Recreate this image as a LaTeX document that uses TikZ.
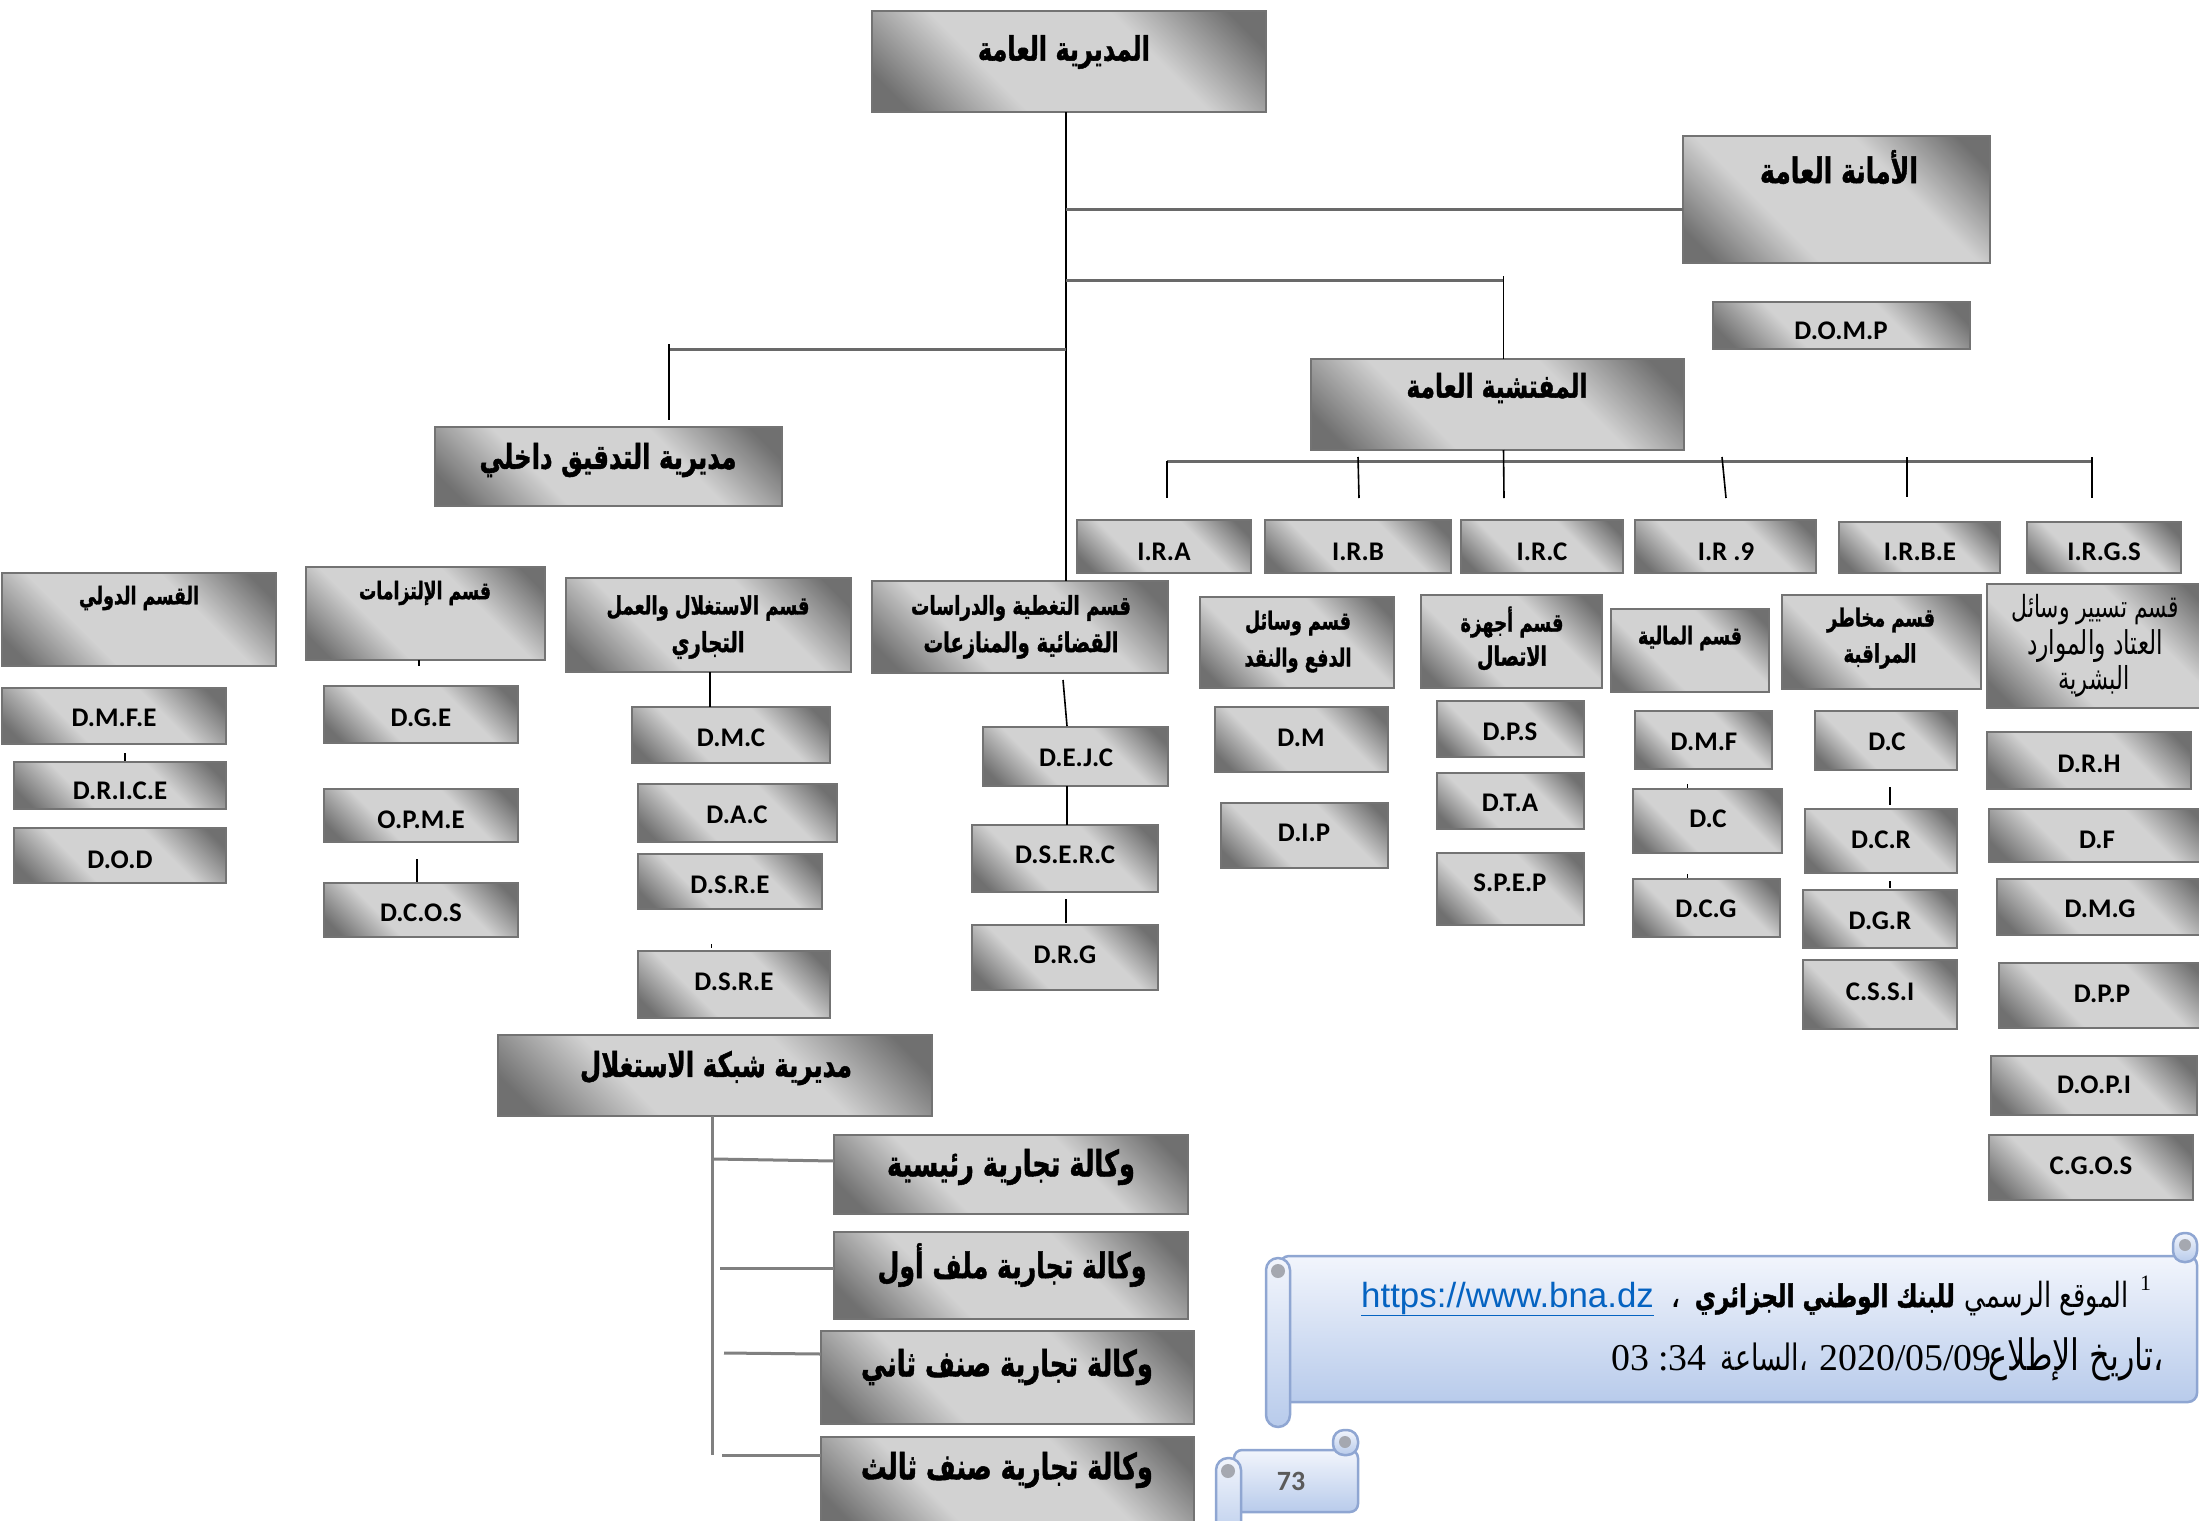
\documentclass[tikz,border=0pt]{standalone}
\usepackage{fontspec}
\usepackage{graphicx}
\setmainfont{Liberation Serif}
\newfontfamily\arf[Script=Arabic, BoldFeatures={FakeBold=1.5}]{DejaVu Sans}
\newfontfamily\latf{Carlito}
\newfontfamily\urlf{Liberation Sans}
\TeXXeTstate=1
\usetikzlibrary{calc}

\definecolor{bxdk}{RGB}{112,112,112}
\definecolor{bxlt}{RGB}{210,210,210}
\definecolor{bxbd}{RGB}{115,115,115}
\definecolor{lngray}{RGB}{105,105,105}
\definecolor{netgray}{RGB}{128,128,128}
\definecolor{scrbd}{RGB}{143,166,210}
\definecolor{scrtop}{RGB}{242,245,252}
\definecolor{scrbot}{RGB}{184,203,235}
\definecolor{curlg}{RGB}{165,168,176}
\definecolor{urlc}{RGB}{5,99,193}
\definecolor{pgc}{RGB}{90,90,90}

\pgfdeclareverticalshading{boxsh}{100bp}{color(0bp)=(bxdk); color(20bp)=(bxdk); color(37bp)=(bxlt); color(63bp)=(bxlt); color(80bp)=(bxdk); color(100bp)=(bxdk)}

\tikzset{
  box/.style={draw=bxbd, line width=2.4bp, shade, shading=boxsh, shading angle=-45, inner sep=0pt, outer sep=0pt},
  blk/.style={draw=black, line width=1.6bp},
  gln/.style={draw=lngray, line width=3bp},
  nln/.style={draw=netgray, line width=3bp},
  ltxt/.style={inner sep=0pt, font=\latf\bfseries\fontsize{27}{30}\selectfont},
  atxt/.style={inner sep=0pt},
  scrollpart/.style={draw=scrbd, line width=2.5bp, top color=scrtop, bottom color=scrbot},
  curl/.style={fill=curlg},
}

% box: name, x1, y1, x2, y2 (pixel coordinates, y downwards)
\newcommand\bx[5]{\pgfmathsetmacro\bxw{#4-#2}\pgfmathsetmacro\bxh{#5-#3}%
  \node[box, minimum width=\bxw bp, minimum height=\bxh bp, anchor=north west] (#1) at (#2,#3) {};}
% latin label: name, cx, cy, text
\newcommand\lt[4]{\node[ltxt] (#1) at (#2,#3) {#4};}
% arabic bold label: name, cx, cy, width, text (text carries its own \beginR...\endR)
\newcommand\at[5]{\node[atxt] (#1) at (#2,#3) {\scalebox{1}[1.4]{\resizebox{#4bp}{!}{\arf\bfseries #5}}};}
% arabic regular label
\newcommand\atr[5]{\node[atxt] (#1) at (#2,#3) {\scalebox{1}[1.4]{\resizebox{#4bp}{!}{\arf #5}}};}

\begin{document}
\begin{tikzpicture}[x=1bp, y=-1bp]
\useasboundingbox (0,0) rectangle (2199,1520);

% ---------------- top level ----------------
\bx{main}{872}{11}{1266}{112}
\at{mainT}{1064}{52}{172}{\beginR المديرية العامة\endR}

\bx{amana}{1683}{136}{1990}{263}
\at{amanaT}{1839}{167}{158}{\beginR الأمانة العامة\endR}

\bx{domp}{1713}{302}{1970}{349}
\lt{dompT}{1841}{331}{D.O.M.P}

\bx{insp}{1311}{359}{1684}{450}
\at{inspT}{1497}{388}{181}{\beginR المفتشية العامة\endR}

\bx{audit}{435}{427}{782}{506}
\at{auditT}{608}{460}{257}{\beginR مديرية التدقيق داخلي\endR}

% ---------------- inspections ----------------
\bx{ira}{1077}{520}{1251}{573}   \lt{iraT}{1164}{552}{I.R.A}
\bx{irb}{1265}{520}{1451}{573}   \lt{irbT}{1358}{552}{I.R.B}
\bx{irc}{1461}{520}{1623}{573}   \lt{ircT}{1542}{552}{I.R.C}
\bx{irn}{1635}{520}{1816}{573}   \lt{irnT}{1726}{552}{I.R .9}
\bx{irbe}{1839}{522}{2000}{573}  \lt{irbeT}{1920}{552}{I.R.B.E}
\bx{irgs}{2027}{522}{2181}{573}  \lt{irgsT}{2104}{552}{I.R.G.S}

% ---------------- departments ----------------
\bx{dIntl}{2}{573}{276}{666}
\at{dIntlT}{139}{598}{120}{\beginR القسم الدولي\endR}

\bx{dComm}{306}{567}{545}{660}
\at{dCommT}{425}{593}{132}{\beginR قسم الإلتزامات\endR}

\bx{dExp}{566}{578}{851}{672}
\at{dExpT}{708}{608}{203}{\beginR قسم الاستغلال والعمل\endR}
\at{dExpU}{708}{645}{73}{\beginR التجاري\endR}

\bx{dCov}{872}{581}{1168}{673}
\at{dCovT}{1021}{608}{220}{\beginR قسم التغطية والدراسات\endR}
\at{dCovU}{1021}{645}{195}{\beginR القضائية والمنازعات\endR}

\bx{dPay}{1200}{597}{1394}{688}
\at{dPayT}{1298}{623}{106}{\beginR قسم وسائل\endR}
\at{dPayU}{1298}{660}{107}{\beginR الدفع والنقد\endR}

\bx{dTel}{1421}{595}{1602}{688}
\at{dTelT}{1512}{622}{103}{\beginR قسم أجهزة\endR}
\at{dTelU}{1512}{658}{70}{\beginR الاتصال\endR}

\bx{dFin}{1611}{609}{1769}{692}
\at{dFinT}{1690}{638}{104}{\beginR قسم المالية\endR}

\bx{dRisk}{1782}{595}{1981}{689}
\at{dRiskT}{1881}{620}{108}{\beginR قسم مخاطر\endR}
\at{dRiskU}{1880}{656}{73}{\beginR المراقبة\endR}

\bx{dHR}{1987}{584}{2210}{708}
\atr{dHRT}{2095}{610}{167}{\beginR قسم تسيير وسائل\endR}
\atr{dHRU}{2095}{646}{136}{\beginR العتاد والموارد\endR}
\atr{dHRV}{2094}{681}{71}{\beginR البشرية\endR}

% ---------------- leaves ----------------
\bx{dmfe}{2}{688}{226}{744}     \lt{dmfeT}{114}{718}{D.M.F.E}
\bx{drice}{14}{762}{226}{809}   \lt{driceT}{120}{791}{D.R.I.C.E}
\bx{dod}{14}{828}{226}{883}     \lt{dodT}{120}{860}{D.O.D}

\bx{dge}{324}{686}{518}{743}    \lt{dgeT}{421}{718}{D.G.E}
\bx{opme}{324}{789}{518}{842}   \lt{opmeT}{421}{820}{O.P.M.E}
\bx{dcos}{324}{883}{518}{937}   \lt{dcosT}{421}{913}{D.C.O.S}

\bx{dmc}{632}{707}{830}{763}    \lt{dmcT}{731}{738}{D.M.C}
\bx{dac}{638}{784}{837}{842}    \lt{dacT}{737}{815}{D.A.C}
\bx{dsrea}{638}{854}{822}{909}  \lt{dsreaT}{730}{885}{D.S.R.E}
\bx{dsreb}{638}{951}{830}{1018} \lt{dsrebT}{734}{982}{D.S.R.E}

\bx{dejc}{983}{727}{1168}{786}  \lt{dejcT}{1076}{758}{D.E.J.C}
\bx{dserc}{972}{825}{1158}{892} \lt{dsercT}{1065}{855}{D.S.E.R.C}
\bx{drg}{972}{925}{1158}{990}   \lt{drgT}{1065}{955}{D.R.G}

\bx{dm}{1215}{707}{1388}{772}   \lt{dmT}{1301}{738}{D.M}
\bx{dip}{1221}{803}{1388}{868}  \lt{dipT}{1304}{833}{D.I.P}

\bx{dps}{1437}{701}{1584}{757}  \lt{dpsT}{1510}{732}{D.P.S}
\bx{dta}{1437}{773}{1584}{829}  \lt{dtaT}{1510}{803}{D.T.A}
\bx{spep}{1437}{853}{1584}{925} \lt{spepT}{1510}{883}{S.P.E.P}

\bx{dmf}{1635}{711}{1772}{769}  \lt{dmfT}{1704}{742}{D.M.F}
\bx{dcf}{1633}{789}{1782}{853}  \lt{dcfT}{1708}{819}{D.C}
\bx{dcg}{1633}{879}{1780}{937}  \lt{dcgT}{1706}{909}{D.C.G}

\bx{dcr0}{1815}{711}{1957}{770} \lt{dcr0T}{1887}{742}{D.C}
\bx{dcr}{1805}{809}{1957}{873}  \lt{dcrT}{1881}{840}{D.C.R}
\bx{dgr}{1803}{890}{1957}{948}  \lt{dgrT}{1880}{921}{D.G.R}
\bx{cssi}{1803}{960}{1957}{1029} \lt{cssiT}{1880}{992}{C.S.S.I}

\bx{drh}{1987}{732}{2191}{789}  \lt{drhT}{2089}{764}{D.R.H}
\bx{df}{1989}{809}{2210}{862}   \lt{dfT}{2097}{840}{D.F}
\bx{dmg}{1997}{879}{2210}{935}  \lt{dmgT}{2100}{909}{D.M.G}
\bx{dpp}{1999}{963}{2210}{1028} \lt{dppT}{2102}{994}{D.P.P}
\bx{dopi}{1991}{1056}{2197}{1115} \lt{dopiT}{2094}{1085}{D.O.P.I}
\bx{cgos}{1989}{1135}{2193}{1200} \lt{cgosT}{2091}{1166}{C.G.O.S}

% ---------------- network ----------------
\bx{net}{498}{1035}{932}{1116}
\at{netT}{716}{1068}{272}{\beginR مديرية شبكة الاستغلال\endR}
\bx{ag1}{834}{1135}{1188}{1214}
\at{ag1T}{1011}{1167}{248}{\beginR وكالة تجارية رئيسية\endR}
\bx{ag2}{834}{1232}{1188}{1319}
\at{ag2T}{1012}{1265}{269}{\beginR وكالة تجارية ملف أول\endR}
\bx{ag3}{821}{1331}{1194}{1424}
\at{ag3T}{1007}{1367}{292}{\beginR وكالة تجارية صنف ثاني\endR}
\bx{ag4}{821}{1437}{1194}{1530}
\at{ag4T}{1007}{1470}{292}{\beginR وكالة تجارية صنف ثالث\endR}

% ---------------- connectors ----------------
\coordinate (tk) at ([xshift=-3bp]main.south);
\coordinate (yA) at (0,209);
\coordinate (yI) at (0,280);
\coordinate (yD) at (0,349);
\coordinate (xD) at (669,0);
\coordinate (iv) at ([xshift=6bp]insp.north);

\draw[blk] (tk) -- (tk |- dCov.north);
\draw[gln] (tk |- yA) -- (amana.west |- yA);
\draw[gln] (tk |- yI) -- (iv |- yI);
\draw[blk] ([yshift=4bp]iv |- yI) -- (iv);
\draw[gln] (tk |- yD) -- (xD |- yD);
\draw[blk] ([yshift=5bp]xD |- yD) -- ([yshift=7bp]xD |- audit.north);

% inspection bus
\coordinate (b1) at (1167,461);
\coordinate (b2) at (1358,457);
\coordinate (b4) at (1722,457);
\coordinate (b5) at (1907,457);
\coordinate (b6) at (2092,457);
\coordinate (e1) at (1167,498);
\coordinate (e2) at (1359,498);
\coordinate (e3) at (1504,498);
\coordinate (e4) at (1726,498);
\coordinate (e5) at (1907,497);
\coordinate (e6) at (2092,498);
\draw[gln] (b1) -- (b1 -| b6);
\draw[blk] (b1) -- (e1);
\draw[blk] (b2) -- (e2);
\draw[blk] (iv |- insp.south) -- (e3);
\draw[blk] (b4) -- (e4);
\draw[blk] (b5) -- (e5);
\draw[blk] (b6) -- (e6);

% small ticks and links between leaves
\draw[blk] (419,660) -- (419,666);
\draw[blk] (417,859) -- (417,882);
\draw[blk] (125,753) -- (125,761);
\draw[blk] (710,672) -- (710,707);
\draw[blk, line width=1bp] (711,944) -- (711,948);
\draw[blk] (1063,680) -- (1067,726);
\draw[blk] (1067,786) -- (1067,825);
\draw[blk] (1066,899) -- (1066,923);
\draw[blk] (1890,787) -- (1890,805);
\draw[blk] (1890,881) -- (1890,888);
\draw[blk, line width=1bp] (1687,784) -- (1687,788);
\draw[blk, line width=1bp] (1687,874) -- (1687,878);

% network
\coordinate (nt) at (712,1116);
\draw[nln] (nt) -- (712,1455);
\draw[nln] (714,1159) -- (ag1.west |- 0,1161);
\draw[nln] (720,1268) -- (ag2.west |- 0,1268);
\draw[nln] (724,1353) -- (ag3.west |- 0,1354);
\draw[nln] (722,1455) -- (ag4.west |- 0,1455);

% ---------------- footnote scroll ----------------
\path[scrollpart, rounded corners=9bp] (1280,1256) rectangle (2197,1402);
\path[scrollpart, rounded corners=11bp] (2173,1233) rectangle (2197,1262);
\fill[curl] (2185,1245) circle (6bp);
\path[scrollpart, rounded corners=12bp] (1266,1258) rectangle (1290,1427);
\fill[curl] (1278,1271) circle (7bp);

\node[anchor=base west, inner sep=0pt, font=\fontsize{22}{22}\selectfont] (fnsup) at (2140,1290) {1};
\node[anchor=base east, inner sep=0pt] (fn1a) at (2129,1307) {\scalebox{1}[1.35]{\resizebox{164bp}{!}{\arf\beginR الموقع الرسمي\endR}}};
\node[anchor=base east, inner sep=0pt] (fn1b) at (1955,1307) {\scalebox{1}[1.35]{\resizebox{260bp}{!}{\arf\bfseries\beginR للبنك الوطني الجزائري\endR}}};
\node[anchor=base east, inner sep=0pt] (fn1c) at (1682,1307) {\arf\fontsize{34}{34}\selectfont ،};
\node[anchor=base west, inner sep=0pt] (fn1d) at (1361,1307) {\urlf\fontsize{35}{35}\selectfont\color{urlc}\underline{https://www.bna.dz}};

\node[anchor=base east, inner sep=0pt] (fn2a) at (2164,1370) {\scalebox{1}[1.35]{\resizebox{175bp}{!}{\arf\beginR ،\kern0pt تاريخ الإطلاع\endR}}};
\node[anchor=base east, inner sep=0pt] (fn2b) at (1992,1370) {\fontsize{38}{38}\selectfont 2020/05/09};
\node[anchor=base east, inner sep=0pt] (fn2c) at (1808,1370) {\scalebox{1}[1.35]{\resizebox{87bp}{!}{\arf\beginR ،\kern0pt الساعة\endR}}};
\node[anchor=base east, inner sep=0pt] (fn2d) at (1707,1370) {\fontsize{38}{38}\selectfont 03 :34};

% ---------------- page number scroll ----------------
\path[scrollpart, rounded corners=8bp] (1234,1450) rectangle (1358,1512);
\path[scrollpart, rounded corners=11bp] (1333,1430) rectangle (1358,1455);
\fill[curl] (1345,1442) circle (6bp);
\path[scrollpart, rounded corners=12bp] (1216,1458) rectangle (1241,1545);
\fill[curl] (1228,1471) circle (7bp);
\node[inner sep=0pt, font=\latf\bfseries\fontsize{28}{28}\selectfont, text=pgc] (pg) at (1291,1481) {73};

\end{tikzpicture}
\end{document}
